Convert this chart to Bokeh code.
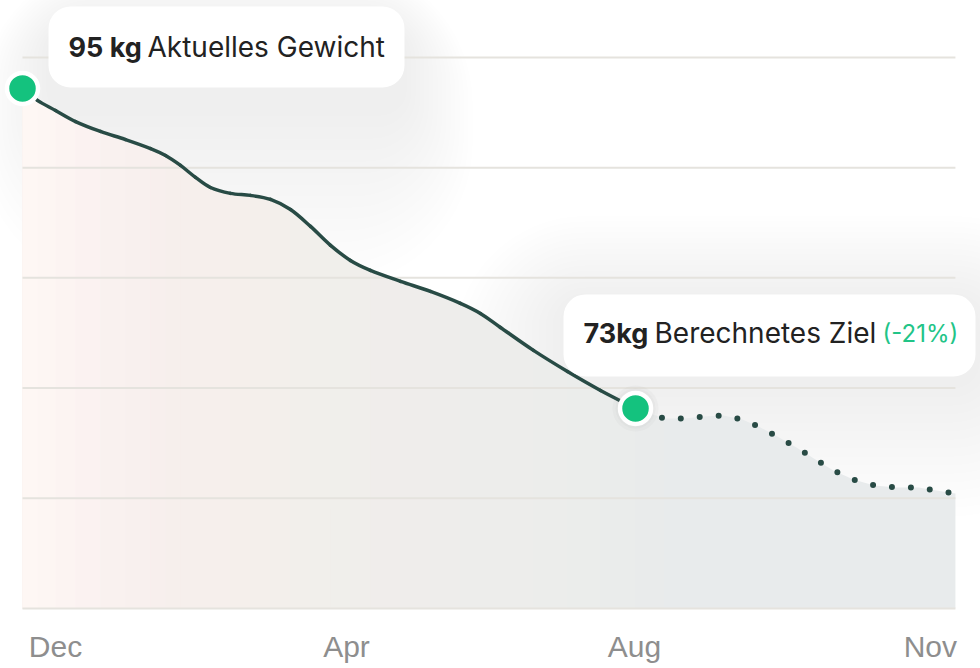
import numpy as np
from bokeh.plotting import figure
from bokeh.models import Range1d, FixedTicker, BoxAnnotation, Label
from bokeh.embed import file_html
from bokeh.resources import INLINE

# ---------------- data ----------------
weeks_actual = [0.00, 0.77, 1.70, 2.73, 4.01, 5.30, 6.59, 7.36, 8.13, 8.90, 9.67,
                10.70, 11.73, 12.76, 13.79, 14.82, 15.85, 16.87, 17.90, 19.45,
                20.99, 22.53, 23.56, 24.59, 26.29, 28.04, 29.74, 31.54]
kg_actual = [95.31, 94.66, 94.11, 93.51, 92.97, 92.53, 92.04, 91.66, 91.12, 90.47,
             89.92, 89.60, 89.49, 89.27, 88.72, 87.80, 86.77, 85.95, 85.41, 84.81,
             84.26, 83.61, 83.06, 82.30, 81.05, 79.90, 78.87, 77.89]
weeks_forecast = [31.54, 33.03, 34.06, 35.03, 36.06, 37.04, 37.97, 38.84, 39.82,
                  40.80, 41.72, 42.75, 43.83, 44.96, 46.10, 47.02, 48.00]
kg_forecast = [77.89, 77.34, 77.34, 77.45, 77.51, 77.29, 76.85, 76.36, 75.77,
               75.11, 74.51, 74.02, 73.70, 73.59, 73.59, 73.42, 73.26]
grid_kg = [67, 73, 79, 85, 91, 97]
tick_weeks = [1.70, 16.67, 31.49, 46.71]
tick_labels = ["Dec", "Apr", "Aug", "Nov"]
current_label = ("95 kg", "Aktuelles Gewicht")
goal_label = ("73kg", "Berechnetes Ziel", "(-21%)")

# ---------------- styling ----------------
GREEN = "#14C27E"
LINE = "#284B45"
TEXT = "#222222"
FRAME_W, FRAME_H = 980, 612
X0, X1 = -1.132, 49.29
Y0, Y1 = 66.78, 100.10
PXX = FRAME_W / (X1 - X0)
PXY = FRAME_H / (Y1 - Y0)

p = figure(frame_width=FRAME_W, frame_height=FRAME_H, x_range=Range1d(X0, X1),
           y_range=Range1d(Y0, Y1), output_backend="svg", toolbar_location=None,
           y_axis_location=None, min_border_left=0, min_border_right=0,
           min_border_top=0, min_border_bottom=0)
p.outline_line_color = None
p.background_fill_color = "white"
p.border_fill_color = "white"
p.xgrid.visible = False
p.ygrid.visible = False

ax = p.xaxis[0]
ax.ticker = FixedTicker(ticks=tick_weeks)
ax.major_label_overrides = {t: l for t, l in zip(tick_weeks, tick_labels)}
ax.axis_line_color = None
ax.major_tick_line_color = None
ax.minor_tick_line_color = None
ax.major_tick_out = 0
ax.major_tick_in = 0
ax.major_label_standoff = 17
ax.major_label_text_font = "Liberation Sans"
ax.major_label_text_font_size = "30px"
ax.major_label_text_color = "#8E8E8E"


def box_coords(x, y, l, r, t, b):
    # offsets in screen px relative to a data point (t/b measured downward)
    return x + l / PXX, x + r / PXX, y - t / PXY, y - b / PXY


boxes = [
    box_coords(weeks_actual[0], kg_actual[0], 26, 382, -82, -1),
    box_coords(weeks_forecast[0], kg_forecast[0], -72, 340, -114, -32),
]
shadow_specs = [
    # (layers, step px, horizontal factor, base shift, shift per layer, alpha)
    (16, 8, 0.55, 24, 3.5, 0.0075),
    (16, 7, 1.0, 8, 1.5, 0.0085),
]

# soft shadows under the callouts
for (l, r, t, b), (n, step, hf, s0, s1, alpha) in zip(boxes, shadow_specs):
    for i in range(n):
        e = 4 + i * step
        dy = s0 + i * s1
        p.add_layout(BoxAnnotation(left=l - hf * e / PXX, right=r + hf * e / PXX,
                                   top=t + (e - dy) / PXY, bottom=b - (e + dy) / PXY,
                                   border_radius=22 + e, fill_color="#777777",
                                   fill_alpha=alpha, line_color=None, level="underlay",
                                   editable=False))

# gradient-like fill under the whole curve
wx = weeks_actual + weeks_forecast[1:]
wy = kg_actual + kg_forecast[1:]
base = grid_kg[0]
p.varea(x=wx, y1=[base] * len(wx), y2=wy, fill_color="#E8EBEC")
span = wx[-1] - wx[0]
targets = [max(0.0, min(1.0, 1.0 - (xv - wx[0]) / (0.85 * span))) for xv in wx]
for j in range(len(wx) - 1, 0, -1):
    a_here = targets[j - 1]
    a_next = targets[j] if j < len(wx) - 1 else 0.0
    denom = 1 - a_next
    a = 1 - (1 - a_here) / denom if denom > 1e-6 else 0.0
    if a <= 0:
        continue
    p.varea(x=wx[:j + 1], y1=[base] * (j + 1), y2=wy[:j + 1],
            fill_color="#FEF7F4", fill_alpha=a)

# grid lines
p.segment(x0=[wx[0]] * len(grid_kg), x1=[wx[-1]] * len(grid_kg), y0=grid_kg,
          y1=grid_kg, line_color="#E5E3DE", line_width=2)

# smooth solid line (Catmull-Rom rendered as cubic Bezier segments)
ax_ = np.array(weeks_actual)
ay_ = np.array(kg_actual)
n = len(ax_)
prev = np.r_[0, np.arange(n - 1)]
nxt = np.r_[np.arange(1, n), n - 1]
i0 = np.arange(n - 1)
i1 = i0 + 1
cx0 = ax_[i0] + (ax_[nxt[i0]] - ax_[prev[i0]]) / 6
cy0 = ay_[i0] + (ay_[nxt[i0]] - ay_[prev[i0]]) / 6
cx1 = ax_[i1] - (ax_[nxt[i1]] - ax_[prev[i1]]) / 6
cy1 = ay_[i1] - (ay_[nxt[i1]] - ay_[prev[i1]]) / 6
p.bezier(x0=ax_[i0], y0=ay_[i0], x1=ax_[i1], y1=ay_[i1], cx0=cx0, cy0=cy0,
         cx1=cx1, cy1=cy1, line_color=LINE, line_width=3.5, line_cap="round")

# dotted forecast line
p.line(weeks_forecast, kg_forecast, line_color=LINE, line_width=6, line_cap="round",
       line_dash="0 19", line_dash_offset=10)

# markers
mx = [weeks_actual[0], weeks_forecast[0]]
my = [kg_actual[0], kg_forecast[0]]
p.scatter(mx[1:], my[1:], size=46, fill_color="#9a9a9a", fill_alpha=0.06, line_color=None)
p.scatter(mx[1:], my[1:], size=40, fill_color="#9a9a9a", fill_alpha=0.06, line_color=None)
p.scatter(mx, my, size=31, fill_color=GREEN, line_color="white", line_width=4.5)

# callout boxes
for (l, r, t, b) in boxes:
    p.add_layout(BoxAnnotation(left=l, right=r, top=t, bottom=b, border_radius=22,
                               fill_color="white", fill_alpha=1.0, line_color=None,
                               editable=False))


def add_text(x, y, dx, dy, txt, bold=False, color=TEXT, size="28px"):
    p.add_layout(Label(x=x, y=y, x_offset=dx, y_offset=dy, text=txt,
                       text_font="Inter", text_font_size=size,
                       text_font_style="bold" if bold else "normal",
                       text_color=color, text_baseline="alphabetic",
                       text_align="left"))


add_text(weeks_actual[0], kg_actual[0], 46, 41, current_label[0], bold=True, size="27px")
add_text(weeks_actual[0], kg_actual[0], 125, 41, current_label[1])
add_text(weeks_forecast[0], kg_forecast[0], -52, 75, goal_label[0], bold=True, size="27px")
add_text(weeks_forecast[0], kg_forecast[0], 19, 75, goal_label[1])
add_text(weeks_forecast[0], kg_forecast[0], 247, 75, goal_label[2], color="#22C487",
         size="24px")

open("out.html", "w").write(file_html(p, INLINE))
